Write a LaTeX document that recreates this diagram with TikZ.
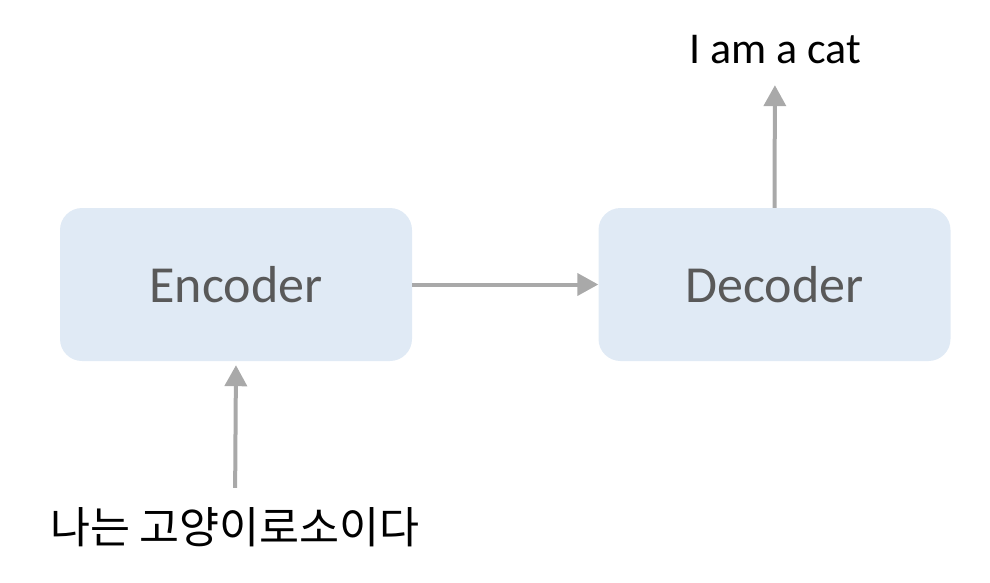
\documentclass[tikz,border=0pt]{standalone}
\usepackage{fontspec}
\setmainfont{Carlito}
\newfontfamily\krfont{Noto Sans CJK KR}
\usetikzlibrary{arrows.meta}
\definecolor{boxfill}{HTML}{E0EAF5}
\definecolor{boxtext}{HTML}{595959}
\definecolor{arrowgray}{HTML}{A9A9A9}

\begin{document}
\begin{tikzpicture}[x=1pt,y=-1pt,
    block/.style={fill=boxfill, rounded corners=22pt, minimum width=352pt, minimum height=153pt,
      text=boxtext, font=\fontsize{52}{60}\selectfont},
    flow/.style={draw=arrowgray, line width=4pt, -{Triangle[length=21pt,width=22pt]}}]
        \useasboundingbox (0,0) rectangle (990,582);
        \node[block] (enc) at (236,284.5) {Encoder};
        \node[block] (dec) at (774.5,284.5) {Decoder};
        \node[anchor=base, inner sep=0pt, text depth=0pt, font=\fontsize{44}{52}\selectfont] (out) at (775,63) {I am a cat};
        \node[anchor=base, inner sep=0pt, text height=36pt, font=\krfont\fontsize{43.5}{50}\selectfont] (src) at (235,543) {나는 고양이로소이다};

        \draw[flow] (enc) -- (dec); % Encoder to decoder.
        \draw[flow, shorten <=19pt, shorten >=4pt] (src.north) -- (enc.south); % Input sentence.
        \draw[flow, shorten >=22pt] (dec.north) -- (out.south); % Output sentence.
      \end{tikzpicture}
\end{document}
